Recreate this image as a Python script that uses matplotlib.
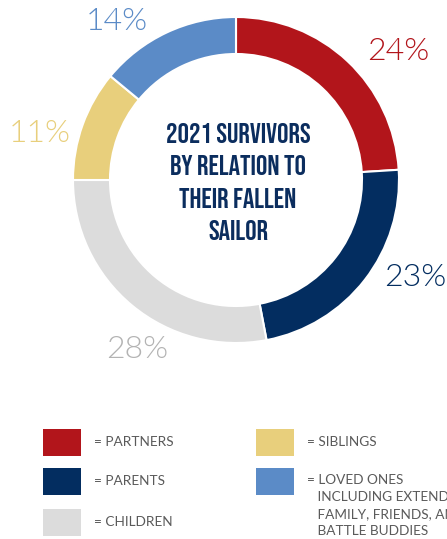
import matplotlib
matplotlib.use("Agg")
import matplotlib.pyplot as plt
from matplotlib.patches import Rectangle
from matplotlib import font_manager as fm

# ---- data ----
categories = ["PARTNERS", "PARENTS", "CHILDREN", "SIBLINGS", "LOVED ONES"]
values = [24, 23, 28, 11, 14]
pct_labels = ["24%", "23%", "28%", "11%", "14%"]
legend_texts = ["= PARTNERS", "= PARENTS", "= CHILDREN", "= SIBLINGS",
                "= LOVED ONES\n   INCLUDING EXTENDED\n   FAMILY, FRIENDS, AND\n   BATTLE BUDDIES"]
title_lines = ["2021 SURVIVORS", "BY RELATION TO", "THEIR FALLEN", "SAILOR"]


# ---- fonts ----
def font_file(names, weight, fallback="Lato"):
    for n in names:
        cands = [f for f in fm.fontManager.ttflist
                 if f.name == n and f.style == "normal"
                 and "[" not in f.fname and "Variable" not in f.fname]
        if cands:
            best = min(cands, key=lambda f: abs(int(f.weight) - weight))
            return fm.FontProperties(fname=best.fname)
    return fm.FontProperties(family=fallback, weight=weight)


title_fp = font_file(["Bebas Neue", "Oswald", "Roboto Condensed"], 700,
                     fallback="DejaVu Sans")
label_fp = font_file(["Montserrat", "Lato"], 300)
legend_fp = font_file(["Montserrat", "Lato"], 400)

# ---- style ----
colors = ["#b2151b", "#032d60", "#dcdcdc", "#e8cf7c", "#5b8bc7"]
label_colors = ["#b2151b", "#032d60", "#b3b3b3", "#e8cf7c", "#5b8bc7"]
navy = "#0b2d5e"

W, H = 447, 539
fig = plt.figure(figsize=(W / 100, H / 100), dpi=100)
ax = fig.add_axes([0, 0, 1, 1])

cx, cy, R = 236, H - 180, 163
ax.pie(values, colors=colors, startangle=90, counterclock=False,
       center=(cx, cy), radius=R,
       wedgeprops=dict(width=37, edgecolor="white", linewidth=1.5))
ax.set_xlim(0, W)
ax.set_ylim(0, H)
ax.set_aspect("equal")
ax.axis("off")

# percentage labels (pixel layout positions)
label_pos = [(398, 52), (415, 278), (137, 349), (40, 134), (117, 22)]
for (px, py), t, c in zip(label_pos, pct_labels, label_colors):
    ax.text(px, H - py, t, color=c, fontproperties=label_fp, fontsize=23,
            ha="center", va="center")

# center title
for i, line in enumerate(title_lines):
    ax.text(238, H - (133 + 32.3 * i), line, color=navy,
            fontproperties=title_fp, fontsize=20.5,
            ha="center", va="center")

# legend
sq_pos = [(43, 429), (43, 468), (43, 509), (256, 429), (256, 468)]
txt_pos = [(94, 442), (94, 481), (94, 522), (307, 442), (307, 481)]
for (sx, sy), (tx, ty), c, t in zip(sq_pos, txt_pos, colors, legend_texts):
    ax.add_patch(Rectangle((sx, H - sy - 27), 38, 27, color=c, lw=0))
    ax.text(tx, H - ty + (7 if "\n" in t else 0), t, color="#5a5a5a",
            fontproperties=legend_fp, fontsize=9.8,
            ha="left", va="top" if "\n" in t else "center",
            linespacing=1.5, clip_on=False)

fig.savefig("out.png", dpi=100)
